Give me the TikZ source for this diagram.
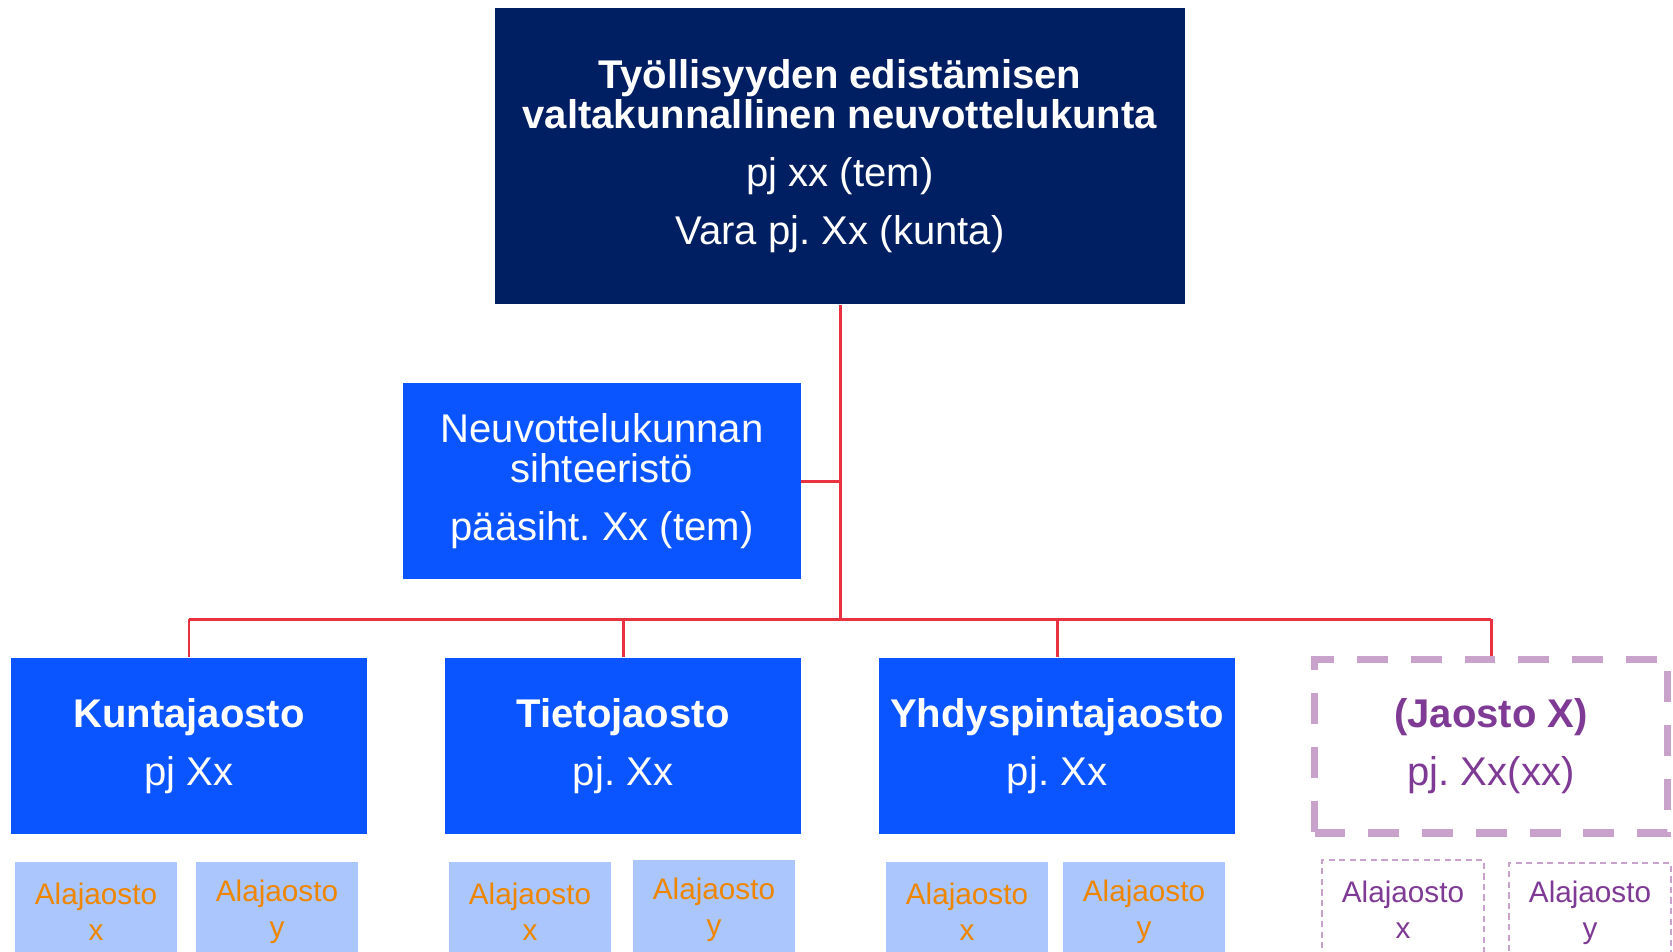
\documentclass[tikz,border=0pt]{standalone}
\usepackage{fontspec}
\setmainfont{Liberation Sans}
\frenchspacing
\definecolor{navy}{HTML}{001E62}
\definecolor{jblue}{HTML}{0A55FF}
\definecolor{lblue}{HTML}{AAC6FC}
\definecolor{orng}{HTML}{EE8600}
\definecolor{purp}{HTML}{7E3A94}
\definecolor{lpurp}{HTML}{C8A2CB}
\definecolor{linered}{HTML}{E8323F}
\begin{document}
\begin{tikzpicture}[x=0.02cm,y=-0.02cm]
        \tikzstyle{box}=[rectangle, inner sep=0pt, align=center, text=white,
            font=\fontsize{22.8}{23}\selectfont]
        \tikzstyle{sub}=[rectangle, inner sep=0pt, align=center, text=orng, fill=lblue,
            minimum width=3.24cm, minimum height=2cm, font=\fontsize{16.9}{20.5}\selectfont]
        \tikzstyle{subx}=[sub, fill=none, text=purp, draw=lpurp, line width=1.2pt,
            dash pattern=on 3.5pt off 2.5pt]
        \tikzstyle{link}=[draw=linered, line width=1.7pt]

        \useasboundingbox (0,0) rectangle (1673,951);
        \clip (0,0) rectangle (1673,951);

        \node[box, fill=navy, minimum width=13.8cm, minimum height=5.94cm] (top) at (840,156)
            {\textbf{Työllisyyden edistämisen}\\ \textbf{valtakunnallinen neuvottelukunta}\\[10pt]
             pj xx (tem)\\[10pt] Vara pj. Xx (kunta)};
        \node[box, fill=jblue, minimum width=7.96cm, minimum height=3.94cm] (sec) at (602,481)
            {Neuvottelukunnan\\ sihteeristö\\[10pt] pääsiht. Xx (tem)};

        \node[box, fill=jblue, minimum width=7.12cm, minimum height=3.54cm] (a) at (189,746)
            {\textbf{Kuntajaosto}\\[10pt] pj Xx};
        \node[box, fill=jblue, minimum width=7.12cm, minimum height=3.54cm] (b) at (623,746)
            {\textbf{Tietojaosto}\\[10pt] pj. Xx};
        \node[box, fill=jblue, minimum width=7.14cm, minimum height=3.54cm] (c) at (1057,746)
            {\textbf{Yhdyspintajaosto}\\[10pt] pj. Xx};
        \node[box, text=purp, draw=lpurp, line width=4pt, dash pattern=on 17.6pt off 13pt,
            minimum width=7.06cm, minimum height=3.48cm] (d) at (1491,746)
            {\textbf{(Jaosto X)}\\[10pt] pj. Xx(xx)};

        \node[sub] (a1) at (96,912) {Alajaosto\\x};
        \node[sub] (a2) at (277,912) {Alajaosto\\y};
        \node[sub] (b1) at (530,912) {Alajaosto\\x};
        \node[sub] (b2) at (714,910) {Alajaosto\\y};
        \node[sub] (c1) at (967,912) {Alajaosto\\x};
        \node[sub] (c2) at (1144,912) {Alajaosto\\y};
        \node[subx] (d1) at (1403,910) {Alajaosto\\x};
        \node[subx] (d2) at (1590,913) {Alajaosto\\y};

        \coordinate (bus) at (840,619);
        \draw[link] (top.south) -- (bus);
        \draw[link] (sec.east) -- (sec.east -| top.south);
        \draw[link] (a.north |- bus) -- (d.north |- bus);
        \draw[link] (a.north) -- (a.north |- bus);
        \draw[link] (b.north) -- (b.north |- bus);
        \draw[link] (c.north) -- (c.north |- bus);
        \draw[link] (d.north) -- (d.north |- bus);
    \end{tikzpicture}
\end{document}
